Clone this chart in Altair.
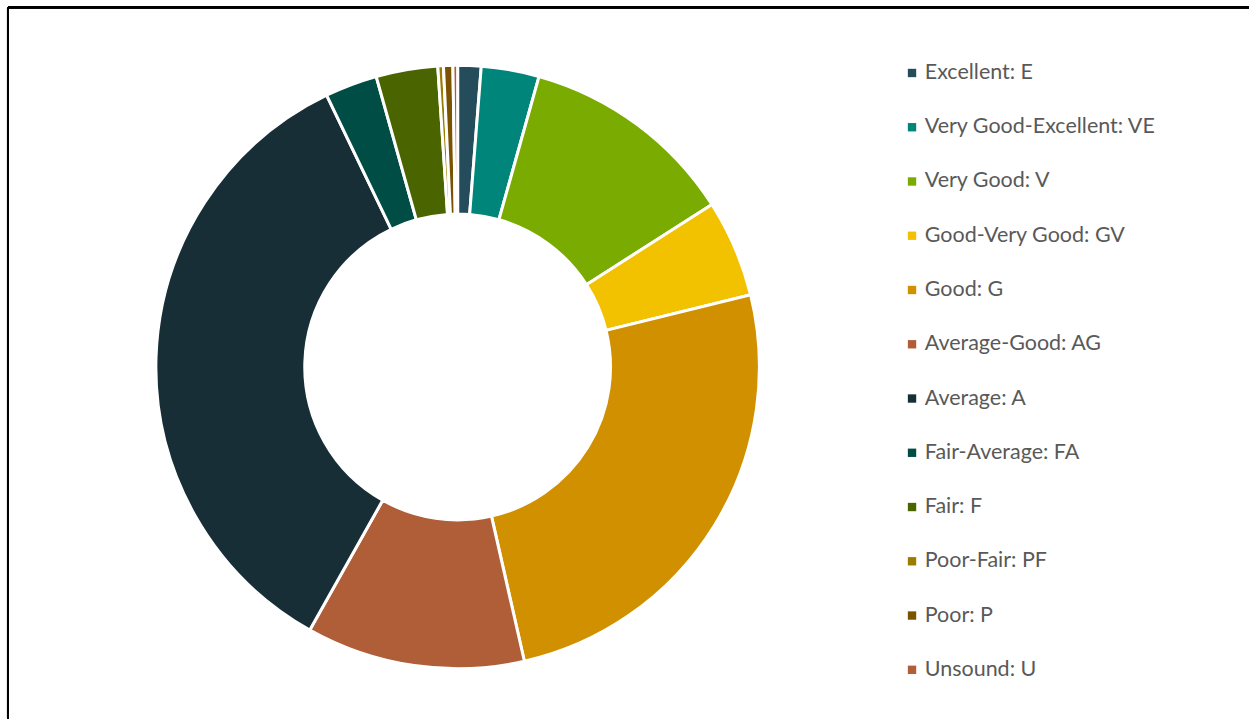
import altair as alt
import pandas as pd

categories = ["Excellent: E", "Very Good-Excellent: VE", "Very Good: V", "Good-Very Good: GV",
              "Good: G", "Average-Good: AG", "Average: A", "Fair-Average: FA", "Fair: F",
              "Poor-Fair: PF", "Poor: P", "Unsound: U"]
values = [1.25, 3.1, 11.6, 5.2, 25.3, 11.7, 34.7, 2.8, 3.3, 0.3, 0.5, 0.25]
colors = ["#254C5A", "#00857A", "#7AAB00", "#F2C200", "#D09000", "#B05E38",
          "#182E36", "#004D45", "#4A6400", "#9C7C00", "#7A5200", "#B05E38"]

df = pd.DataFrame({"cat": categories, "val": values, "idx": list(range(len(categories)))})

donut = alt.Chart(df).mark_arc(
    outerRadius=302, innerRadius=153, stroke="white", strokeWidth=3
).encode(
    theta=alt.Theta("val:Q", stack=True),
    order=alt.Order("idx:Q", sort="ascending"),
    color=alt.Color(
        "cat:N",
        sort=categories,
        scale=alt.Scale(domain=categories, range=colors),
        legend=alt.Legend(
            title=None, orient="none", legendX=902, legendY=62,
            symbolType="square", symbolSize=70, symbolStrokeWidth=0,
            labelFont="Lato", labelFontSize=21.5, labelColor="#595959",
            labelLimit=400, rowPadding=31.3, symbolOffset=0, labelOffset=2,
        ),
    ),
    x=alt.value(458),
    y=alt.value(367),
)

border_top = alt.Chart(df).mark_rule(color="black", strokeWidth=2).encode(
    x=alt.value(8), x2=alt.value(1250), y=alt.value(7)
)
border_left = alt.Chart(df).mark_rule(color="black", strokeWidth=2).encode(
    x=alt.value(8), y=alt.value(7), y2=alt.value(719)
)

chart = alt.layer(donut, border_top, border_left).properties(
    width=1250, height=719, padding=0
).configure_view(stroke=None)

chart.save("out.html", embed_options={"renderer": "svg", "actions": False})
